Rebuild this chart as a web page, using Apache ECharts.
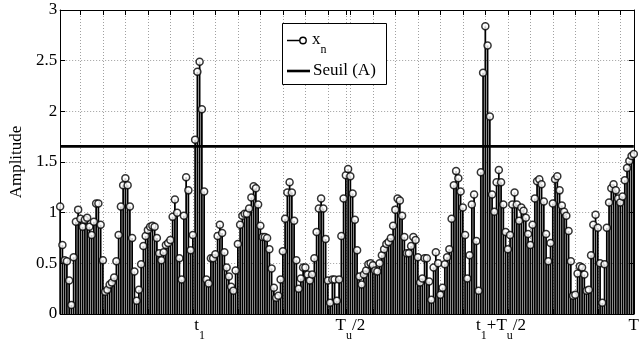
<!DOCTYPE html>
<html><head><meta charset="utf-8">
<script src="https://cdn.jsdelivr.net/npm/echarts@6/dist/echarts.min.js"></script>
<style>html,body{margin:0;padding:0;background:#fff}#c{width:642px;height:342px}</style>
</head><body><div id="c"></div>
<script>
// sample positions n = 1..256
const sampleIndex = Array.from({length: 256}, (_, k) => k + 1);
// amplitude of x_n
const amplitude = [
  1.06, 0.68, 0.53, 0.52, 0.33, 0.09, 0.56, 0.91, 1.03, 0.94,
  0.86, 0.93, 0.95, 0.86, 0.78, 0.91, 1.09, 1.09, 0.88, 0.53,
  0.22, 0.24, 0.29, 0.31, 0.36, 0.52, 0.78, 1.06, 1.27, 1.34,
  1.27, 1.06, 0.75, 0.42, 0.13, 0.24, 0.49, 0.67, 0.77, 0.83,
  0.86, 0.87, 0.86, 0.75, 0.60, 0.53, 0.61, 0.68, 0.70, 0.73,
  0.96, 1.13, 1.00, 0.55, 0.34, 0.97, 1.35, 1.22, 0.63, 0.78,
  1.72, 2.39, 2.49, 2.02, 1.21, 0.34, 0.30, 0.55, 0.55, 0.59,
  0.77, 0.88, 0.80, 0.61, 0.46, 0.37, 0.27, 0.23, 0.43, 0.69,
  0.88, 0.97, 0.99, 0.99, 1.04, 1.15, 1.26, 1.24, 1.08, 0.87,
  0.76, 0.76, 0.75, 0.64, 0.45, 0.26, 0.16, 0.18, 0.34, 0.62,
  0.94, 1.20, 1.30, 1.20, 0.92, 0.53, 0.25, 0.35, 0.46, 0.46,
  0.39, 0.33, 0.39, 0.55, 0.81, 1.04, 1.14, 1.04, 0.74, 0.33,
  0.11, 0.34, 0.34, 0.13, 0.34, 0.77, 1.14, 1.37, 1.43, 1.36,
  1.19, 0.93, 0.63, 0.37, 0.29, 0.39, 0.43, 0.49, 0.50, 0.48,
  0.43, 0.42, 0.50, 0.58, 0.64, 0.69, 0.71, 0.75, 0.87, 1.03,
  1.14, 1.12, 0.97, 0.76, 0.60, 0.60, 0.67, 0.76, 0.73, 0.56,
  0.31, 0.35, 0.55, 0.55, 0.32, 0.14, 0.46, 0.61, 0.50, 0.19,
  0.26, 0.49, 0.56, 0.64, 0.94, 1.27, 1.41, 1.34, 1.21, 1.05,
  0.78, 0.35, 0.58, 1.08, 1.18, 0.72, 0.23, 1.40, 2.38, 2.84,
  2.65, 1.95, 1.18, 1.01, 1.30, 1.42, 1.30, 1.08, 0.81, 0.64,
  0.78, 1.08, 1.20, 1.08, 0.92, 1.05, 1.02, 0.95, 0.79, 0.68,
  0.88, 1.14, 1.31, 1.33, 1.28, 1.11, 0.79, 0.52, 0.70, 1.09,
  1.33, 1.36, 1.22, 1.07, 1.01, 0.97, 0.82, 0.52, 0.18, 0.19,
  0.40, 0.47, 0.46, 0.39, 0.23, 0.24, 0.58, 0.88, 0.98, 0.85,
  0.50, 0.11, 0.49, 0.85, 1.10, 1.24, 1.28, 1.22, 1.14, 1.10,
  1.16, 1.32, 1.44, 1.51, 1.56, 1.58
];
// threshold level "Seuil (A)"
const thresholdLevel = [1.654];
// x grid / tick positions
const gridTicks = [10,20,30,40,50,60,70,80,90,100,110,120,128,130,140,150,160,170,180,190,200,210,220,230,240,250];
// labelled x positions and their labels
const xLabelPos = [63, 130, 197, 256];
const xLabelText = ['{b|t}{s|1}', '{b|T}{s|u}{b|/2}', '{b|t}{s|1}{b|+T}{s|u}{b|/2}', '{b|T}'];
const xMin = 1, xMax = 256;
const yTickLabels = ['0', '0.5', '1', '1.5', '2', '2.5', '3'];

const FONT = '"Liberation Serif","Times New Roman",Times,serif';
const rich = {
  b: {fontFamily: FONT, fontSize: 17, color: '#000', lineHeight: 18, verticalAlign: 'top'},
  s: {fontFamily: FONT, fontSize: 12, color: '#000', lineHeight: 12, verticalAlign: 'top', padding: [13, 0, 0, 0]}
};

const stemData = sampleIndex.map((n, k) => [n, amplitude[k]]);
const chart = echarts.init(document.getElementById('c'), null, {renderer: 'canvas'});
const axisBlack = {show: true, onZero: false, lineStyle: {color: '#000', width: 1}};
const gridLine = {show: true, lineStyle: {color: '#a0a0a0', width: 1, type: [1, 2]}};

chart.setOption({
  animation: false,
  backgroundColor: '#fff',
  grid: {left: 55, right: 1, top: 10, bottom: 26, containLabel: false},
  xAxis: [{
    type: 'value', min: xMin, max: xMax, position: 'bottom',
    axisLine: axisBlack,
    axisTick: {show: true, inside: true, length: 5, customValues: gridTicks, lineStyle: {color: '#000'}},
    axisLabel: {
      show: true, customValues: xLabelPos, margin: 3,
      formatter: v => { const k = xLabelPos.indexOf(v); return k >= 0 ? xLabelText[k] : ''; },
      rich: rich
    },
    splitLine: gridLine
  }, {
    type: 'value', min: xMin, max: xMax, position: 'top',
    axisLine: axisBlack,
    axisTick: {show: true, inside: true, length: 5, customValues: gridTicks, lineStyle: {color: '#000'}},
    axisLabel: {show: false},
    splitLine: {show: false}
  }],
  yAxis: [{
    type: 'value', min: 0, max: 3, interval: 0.5, position: 'left',
    name: 'Amplitude', nameLocation: 'middle', nameGap: 27,
    nameTextStyle: {fontFamily: FONT, fontSize: 17, color: '#000'},
    axisLine: axisBlack,
    axisTick: {show: true, inside: true, length: 5, lineStyle: {color: '#000'}},
    axisLabel: {fontFamily: FONT, fontSize: 17, color: '#000', margin: 3,
      formatter: v => yTickLabels[Math.round(v / 0.5)]},
    splitLine: gridLine
  }, {
    type: 'value', min: 0, max: 3, interval: 0.5, position: 'right',
    axisLine: axisBlack,
    axisTick: {show: true, inside: true, length: 5, lineStyle: {color: '#000'}},
    axisLabel: {show: false},
    splitLine: {show: false}
  }],
  series: [{
    type: 'custom', name: 'stems', xAxisIndex: 0, yAxisIndex: 0, z: 2,
    data: stemData,
    renderItem: (params, api) => {
      const p0 = api.coord([api.value(0), 0]);
      const p1 = api.coord([api.value(0), api.value(1)]);
      return {type: 'line', shape: {x1: p0[0], y1: p0[1], x2: p1[0], y2: p1[1]},
        style: {stroke: '#000', lineWidth: 1.75}};
    }
  }, {
    type: 'scatter', name: 'x_n', xAxisIndex: 0, yAxisIndex: 0, z: 3,
    data: stemData, symbol: 'circle', symbolSize: 7,
    itemStyle: {color: '#fff', borderColor: '#000', borderWidth: 1.5}
  }, {
    type: 'line', name: 'Seuil (A)', xAxisIndex: 0, yAxisIndex: 0, z: 4,
    data: [[xMin, thresholdLevel[0]], [xMax, thresholdLevel[0]]],
    symbol: 'none', lineStyle: {color: '#000', width: 2.6}
  }],
  graphic: [
    {type: 'rect', z: 100, shape: {x: 282.5, y: 23.5, width: 104, height: 61},
      style: {fill: '#fff', stroke: '#000', lineWidth: 1}},
    {type: 'line', z: 101, shape: {x1: 287, y1: 40.5, x2: 303, y2: 40.5},
      style: {stroke: '#000', lineWidth: 1.5}},
    {type: 'circle', z: 102, shape: {cx: 303, cy: 40.5, r: 3.2},
      style: {fill: '#fff', stroke: '#000', lineWidth: 1.4}},
    {type: 'text', z: 102, x: 312, y: 31,
      style: {text: '{b|x}{s|n}', rich: rich}},
    {type: 'line', z: 101, shape: {x1: 287, y1: 71, x2: 310, y2: 71},
      style: {stroke: '#000', lineWidth: 2.6}},
    {type: 'text', z: 102, x: 313, y: 71,
      style: {text: 'Seuil (A)', font: '17px ' + FONT, fill: '#000', verticalAlign: 'middle'}}
  ]
});
</script></body></html>
